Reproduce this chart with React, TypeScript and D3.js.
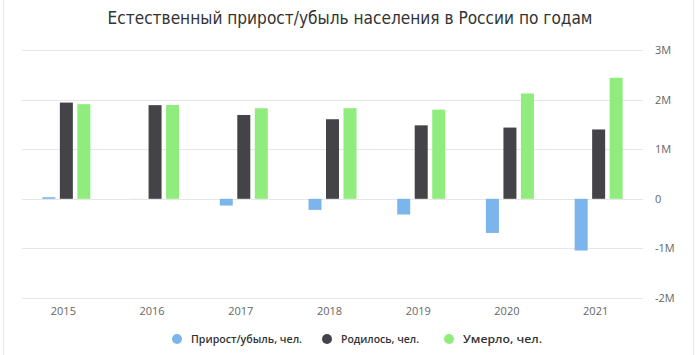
import React from "react";
import * as d3 from "d3";

const years = ["2015", "2016", "2017", "2018", "2019", "2020", "2021"];
const growth = [32000, -2000, -136000, -224000, -317000, -688000, -1043000];
const births = [1940000, 1888000, 1690000, 1604000, 1481000, 1436000, 1398000];
const deaths = [1908000, 1891000, 1826000, 1828000, 1798000, 2124000, 2441000];
const seriesNames = ["Прирост/убыль, чел.", "Родилось, чел.", "Умерло, чел."];
const colors = ["#7cb5ec", "#434348", "#90ed7d"];
const yTicks = [-2e6, -1e6, 0, 1e6, 2e6, 3e6];
const title = "Естественный прирост/убыль населения в России по годам";

const W = 700, H = 355;
const left = 22, right = 643, top = 50, bottom = 298;

function fmt(v: number) {
  if (v === 0) return "0";
  return (v < 0 ? "-" : "") + Math.abs(v / 1e6).toString() + "M";
}

export default function App() {
  const x = d3.scaleBand<string>().domain(years).range([left, right]);
  const y = d3.scaleLinear().domain([-2e6, 3e6]).range([bottom, top]);
  const series = [growth, births, deaths];
  const barW = 13;
  const step = 17.5;
  const legendX = [177, 327, 449];
  const legendW = [111, 78, 79];
  return (
    <svg width={W} height={H} style={{ position: "absolute", left: 0, top: 0, background: "#fff" }}
      fontFamily="'Open Sans', sans-serif">
      <line x1={3.5} x2={3.5} y1={0} y2={H} stroke="#e8e8e8" />
      <line x1={693.5} x2={693.5} y1={0} y2={H} stroke="#e8e8e8" />
      <text x={350} y={24} textAnchor="middle" fontSize={18} fill="#333"
        fontFamily="'DejaVu Sans Condensed', 'DejaVu Sans', sans-serif" textLength={485} lengthAdjust="spacingAndGlyphs">{title}</text>
      {yTicks.map((t) => (
        <g key={t}>
          <line x1={left} x2={right} y1={Math.round(y(t)) + 0.5} y2={Math.round(y(t)) + 0.5} stroke="#e6e6e6" />
          <text x={655} y={y(t) + 4} fontSize={11} fill="#666">{fmt(t)}</text>
        </g>
      ))}
      {years.map((yr, i) => (
        <g key={yr}>
          {series.map((s, k) => {
            const cx = (x(yr) as number) + x.bandwidth() / 2 + (k - 1) * step;
            const v = s[i];
            const y0 = y(0), y1 = y(v);
            return (
              <rect key={k} x={cx - barW / 2} width={barW} y={Math.min(y0, y1)}
                height={Math.abs(y1 - y0)} fill={colors[k]} />
            );
          })}
          <text x={(x(yr) as number) + x.bandwidth() / 2 - 3} y={315} textAnchor="middle" fontSize={11} fill="#666">{yr}</text>
        </g>
      ))}
      {seriesNames.map((n, k) => (
        <g key={n}>
          <circle cx={legendX[k]} cy={339} r={5} fill={colors[k]} />
          <text x={legendX[k] + 14} y={343} fontSize={11.5} fontWeight={600} fill="#333"
            textLength={legendW[k]} lengthAdjust="spacingAndGlyphs">{n}</text>
        </g>
      ))}
    </svg>
  );
}
